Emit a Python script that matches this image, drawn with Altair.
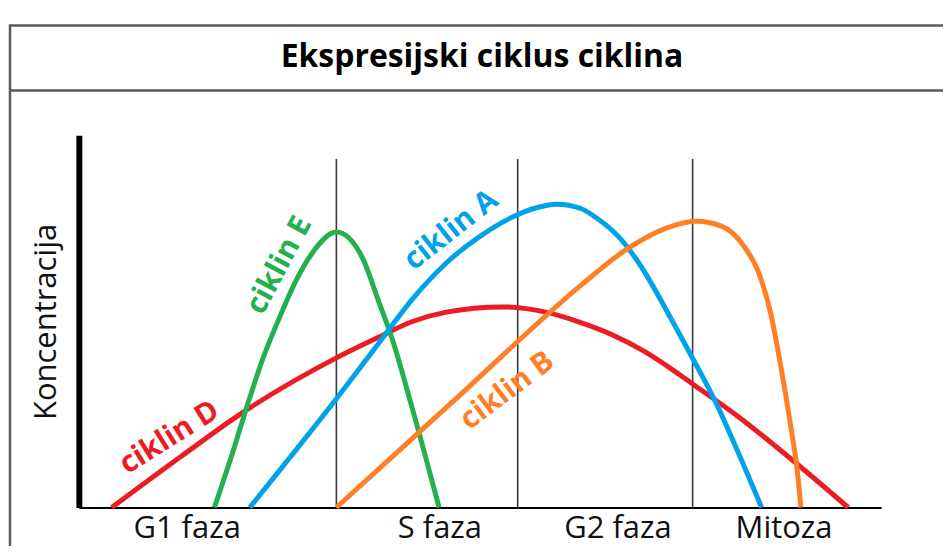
import altair as alt
import pandas as pd

# ---------------- data ----------------
title_text = "Ekspresijski ciklus ciklina"
y_title = "Koncentracija"

series_names = ["ciklin D", "ciklin E", "ciklin A", "ciklin B"]
series_colors = ["#ED1C24", "#22B14C", "#00A2E8", "#FF7F27"]

d_x = [4.1, 12.6, 20.4, 32.1, 37.4, 41.5, 45.8, 52.7, 58.2, 62.3, 66.4, 70.6, 74.8, 76.9, 82.2, 89.3, 95.9]
d_y = [0, 13.5, 25.5, 40.2, 45.8, 49.9, 52.5, 53.9, 52.5, 49.9, 46.5, 41.8, 35.8, 32.6, 24.4, 12.1, 0]

e_x = [16.9, 19.2, 20.9, 22.9, 25.0, 27.1, 29.1, 32.1, 35.3, 37.3, 39.1, 41.5, 44.9]
e_y = [0, 15.0, 26.8, 39.8, 51.0, 61.1, 68.4, 74.0, 67.3, 55.8, 45.0, 27.1, 0]

a_x = [21.3, 26.6, 32.1, 37.4, 41.5, 45.8, 49.9, 54.6, 56.5, 59.6, 62.5, 64.4, 67.3, 69.8, 73.9, 76.4, 79.4, 82.2, 85.1]
a_y = [0, 14.2, 29.2, 44.2, 55.8, 65.7, 72.7, 78.6, 80.2, 81.5, 80.4, 78.0, 72.7, 65.7, 50.4, 40.5, 28.2, 14.7, 0]

b_x = [32.1, 39.9, 47.4, 54.7, 62.3, 68.5, 72.9, 76.9, 80.1, 82.8, 84.7, 86.2, 87.4, 88.7, 89.6, 90.0]
b_y = [0, 15.3, 30.0, 44.6, 59.2, 69.7, 74.8, 76.9, 75.6, 70.5, 63.3, 52.5, 39.1, 22.3, 8.9, 0]

# curve label positions and angles
label_x = [11.3, 25.0, 46.4, 53.4]
label_y = [18.8, 65.1, 74.5, 31.4]
label_angle = [328, 298, 322, 323]

# phases
phase_names = ["G1 faza", "S faza", "G2 faza", "Mitoza"]
phase_label_x = [13.5, 45.0, 67.2, 87.9]
phase_bounds = [32.1, 54.7, 76.5]
phase_line_top = [93.6, 93.6, 93.6]

# ---------------- tables ----------------
rows = []
for name, xs_, ys_ in zip(series_names, [d_x, e_x, a_x, b_x], [d_y, e_y, a_y, b_y]):
    for i, (xv, yv) in enumerate(zip(xs_, ys_)):
        rows.append({"series": name, "x": xv, "y": yv, "order": i})
curves = pd.DataFrame(rows)

labels = pd.DataFrame({"series": series_names, "x": label_x, "y": label_y, "ang": label_angle})
bounds = pd.DataFrame({"x": phase_bounds, "y": phase_line_top, "ybot": [0] * len(phase_bounds)})
phases = pd.DataFrame({"x": phase_label_x, "name": phase_names})
one = pd.DataFrame({"t": [title_text]})

W, H = 804, 373
FONT = "Open Sans"

xsc = alt.Scale(domain=[0, 100], nice=False, zero=False)
ysc = alt.Scale(domain=[0, 100], nice=False, zero=False)
csc = alt.Scale(domain=series_names, range=series_colors)

x_axis = alt.Axis(domain=True, domainColor="black", domainWidth=2, ticks=False,
                  labels=False, grid=False, title=None)
y_axis = alt.Axis(domain=True, domainColor="black", domainWidth=6, ticks=False,
                  labels=False, grid=False, title=y_title, titleFont=FONT,
                  titleFontSize=31, titleFontWeight="normal", titleColor="#111111",
                  titleX=-32, titleY=H / 2, titleAngle=270, titleAlign="center",
                  titleBaseline="middle")

X = alt.X("x:Q", scale=xsc, axis=x_axis)
Y = alt.Y("y:Q", scale=ysc, axis=y_axis)

phase_lines = alt.Chart(bounds).mark_rule(color="#3a3a3a", strokeWidth=1.6).encode(
    x=X, y=Y, y2=alt.Y2("ybot:Q")
)

lines = alt.Chart(curves).mark_line(interpolate="monotone", strokeWidth=5).encode(
    x=X, y=Y, order="order:Q",
    color=alt.Color("series:N", scale=csc, legend=None),
    detail="series:N",
)

curve_labels = alt.Chart(labels).mark_text(
    font=FONT, fontWeight="bold", fontSize=30, align="center", baseline="middle"
).encode(
    x=X, y=Y, text="series:N", angle=alt.Angle("ang:Q", scale=None),
    color=alt.Color("series:N", scale=csc, legend=None),
)

phase_text = alt.Chart(phases).mark_text(
    font=FONT, fontSize=31, color="#111111", align="center", baseline="alphabetic"
).encode(x=X, y=alt.value(404), text="name:N")

title_mark = alt.Chart(one).mark_text(
    font=FONT, fontWeight="bold", fontSize=32, color="#000000", align="center",
    baseline="alphabetic"
).encode(x=alt.value(404), y=alt.value(-68), text="t:N")

frame_top = alt.Chart(one).mark_rule(color="#5a5a5a", strokeWidth=2.5).encode(
    x=alt.value(-69), x2=alt.value(880), y=alt.value(-110))
frame_mid = alt.Chart(one).mark_rule(color="#5a5a5a", strokeWidth=2.5).encode(
    x=alt.value(-69), x2=alt.value(880), y=alt.value(-45))
frame_left = alt.Chart(one).mark_rule(color="#5a5a5a", strokeWidth=2.5).encode(
    x=alt.value(-69), y=alt.value(-111), y2=alt.value(420))

chart = alt.layer(
    phase_lines, lines, curve_labels, phase_text, title_mark,
    frame_top, frame_mid, frame_left
).properties(
    width=W, height=H,
    padding={"left": 71, "top": 127, "right": 62, "bottom": 38},
    autosize=alt.AutoSizeParams(type="none"),
    background="white",
).configure_view(stroke=None)

chart.save("out.html", embed_options={"renderer": "svg", "actions": False})
